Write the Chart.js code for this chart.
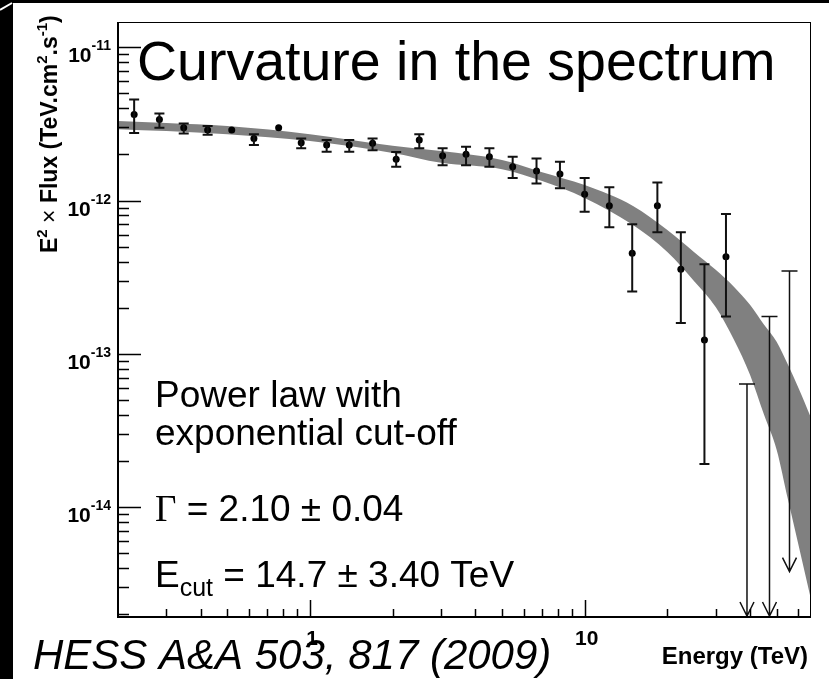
<!DOCTYPE html>
<html>
<head>
<meta charset="utf-8">
<title>Curvature in the spectrum</title>
<script src="https://cdn.jsdelivr.net/npm/chart.js@4.4.1/dist/chart.umd.min.js"></script>
<style>
  html, body { margin: 0; padding: 0; background: #000; }
  canvas { display: block; }
</style>
</head>
<body>
<canvas id="spectrumChart" width="829" height="679"></canvas>
<script>
// Measured spectrum: energy (TeV) and E^2 x Flux (TeV cm^-2 s^-1), with error bar ends
const energy = [0.229, 0.283, 0.347, 0.424, 0.519, 0.625, 0.769, 0.929, 1.15, 1.39, 1.69, 2.06, 2.50,
                3.04, 3.70, 4.50, 5.47, 6.68, 8.13, 10.0, 12.3, 14.9, 18.4, 22.4, 27.3, 32.7];
const flux = [3.64e-12, 3.38e-12, 2.98e-12, 2.88e-12, 2.88e-12, 2.54e-12, 2.98e-12, 2.38e-12, 2.30e-12,
              2.30e-12, 2.36e-12, 1.86e-12, 2.48e-12, 1.96e-12, 2.00e-12, 1.93e-12, 1.66e-12, 1.56e-12,
              1.49e-12, 1.10e-12, 9.25e-13, 4.53e-13, 9.25e-13, 3.56e-13, 1.23e-13, 4.30e-13];
const fluxHigh = [4.56e-12, 3.70e-12, 3.18e-12, 3.06e-12, 2.88e-12, 2.70e-12, 2.98e-12, 2.54e-12, 2.48e-12,
                  2.48e-12, 2.54e-12, 2.07e-12, 2.70e-12, 2.19e-12, 2.24e-12, 2.19e-12, 1.93e-12, 1.88e-12,
                  1.79e-12, 1.40e-12, 1.22e-12, 7.00e-13, 1.31e-12, 6.20e-13, 3.84e-13, 8.17e-13];
const fluxLow = [2.76e-12, 2.98e-12, 2.74e-12, 2.68e-12, 2.88e-12, 2.30e-12, 2.98e-12, 2.19e-12, 2.08e-12,
                 2.08e-12, 2.13e-12, 1.66e-12, 2.19e-12, 1.70e-12, 1.70e-12, 1.66e-12, 1.40e-12, 1.29e-12,
                 1.20e-12, 8.45e-13, 6.69e-13, 2.55e-13, 6.20e-13, 1.59e-13, 1.91e-14, 1.75e-13];

// Upper limits at the highest energies (arrow from the limit down to arrowEnd)
const limitEnergy = [39.0, 47.1, 55.7];
const limitFlux = [6.35e-14, 1.75e-13, 3.47e-13];
const limitArrowEnd = [1.95e-15, 1.95e-15, 3.8e-15];

// Fitted model band (power law with exponential cut-off), upper and lower edges
const bandEnergy = [0.2, 0.3, 0.5, 1, 2, 3, 5, 7, 10, 15, 20, 25, 30, 35, 40, 45, 50, 55, 60, 66.7];
const bandUpper = [3.30e-12, 3.20e-12, 3.06e-12, 2.71e-12, 2.28e-12, 2.10e-12, 1.84e-12, 1.53e-12, 1.26e-12,
                   9.21e-13, 6.42e-13, 4.62e-13, 3.53e-13, 2.73e-13, 2.09e-13, 1.55e-13, 1.20e-13, 8.48e-14,
                   6.01e-14, 3.83e-14];
const bandLower = [2.92e-12, 2.84e-12, 2.71e-12, 2.44e-12, 2.04e-12, 1.76e-12, 1.60e-12, 1.34e-12, 1.04e-12,
                   6.92e-13, 4.62e-13, 2.99e-13, 2.02e-13, 1.23e-13, 7.30e-14, 4.00e-14, 2.37e-14, 1.12e-14,
                   5.70e-15, 2.50e-15];

// Axis ranges and tick labels
const xRange = [0.2, 66.7];
const yRange = [1.92e-15, 1.46e-11];
const xMajorTicks = [1, 10];
const xMajorLabels = ['1', '10'];
const yDecades = [1e-14, 1e-13, 1e-12, 1e-11];
const yDecadeExponents = ['-14', '-13', '-12', '-11'];

const SANS = '"Liberation Sans", Arial, Helvetica, sans-serif';
const SERIF = '"Liberation Serif", "Times New Roman", serif';

function toXY(xs, ys) {
    return xs.map((x, i) => ({ x: x, y: ys[i] }));
}

// draw a row of text pieces (font / vertical offset each), returns total width
function drawRuns(c, x, y, runs) {
    let cx = x;
    runs.forEach(r => {
        c.font = r.font;
        c.fillText(r.text, cx, y + (r.dy || 0));
        cx += c.measureText(r.text).width;
    });
    return cx - x;
}

function runsWidth(c, runs) {
    let w = 0;
    runs.forEach(r => { c.font = r.font; w += c.measureText(r.text).width; });
    return w;
}

function minorTicks(lo, hi) {
    const out = [];
    for (let d = Math.pow(10, Math.floor(Math.log10(lo))); d < hi; d *= 10) {
        for (let m = 2; m <= 9; m++) {
            const v = m * d;
            if (v > lo && v < hi) out.push(v);
        }
    }
    return out;
}

const backgroundPlugin = {
    id: 'slideBackground',
    beforeDraw(chart) {
        const c = chart.ctx;
        c.save();
        c.fillStyle = '#000';
        c.fillRect(0, 0, chart.width, chart.height);
        c.fillStyle = '#fff';
        c.fillRect(13, 3, chart.width - 13, chart.height - 3);
        c.strokeStyle = '#fff';
        c.lineWidth = 2;
        c.beginPath();
        c.moveTo(0, 10);
        c.lineTo(12, 3);
        c.stroke();
        c.restore();
    }
};

const errorBarPlugin = {
    id: 'errorBars',
    afterDatasetsDraw(chart) {
        const c = chart.ctx;
        const xs = chart.scales.x, ys = chart.scales.y;
        c.save();
        c.strokeStyle = '#111';
        c.lineWidth = 2;
        energy.forEach((e, i) => {
            if (fluxHigh[i] === fluxLow[i]) return;
            const px = xs.getPixelForValue(e);
            const top = ys.getPixelForValue(fluxHigh[i]);
            const bot = ys.getPixelForValue(fluxLow[i]);
            c.beginPath();
            c.moveTo(px, top); c.lineTo(px, bot);
            c.moveTo(px - 5, top); c.lineTo(px + 5, top);
            c.moveTo(px - 5, bot); c.lineTo(px + 5, bot);
            c.stroke();
        });
        // upper limits
        c.lineWidth = 1.5;
        limitEnergy.forEach((e, i) => {
            const px = xs.getPixelForValue(e);
            const top = ys.getPixelForValue(limitFlux[i]);
            const tip = ys.getPixelForValue(limitArrowEnd[i]);
            c.beginPath();
            c.moveTo(px - 8, top); c.lineTo(px + 8, top);
            c.moveTo(px, top); c.lineTo(px, tip);
            c.moveTo(px - 7, tip - 14); c.lineTo(px, tip); c.lineTo(px + 7, tip - 14);
            c.stroke();
        });
        c.restore();
    }
};

const axesPlugin = {
    id: 'rootAxes',
    afterDraw(chart) {
        const c = chart.ctx;
        const a = chart.chartArea;
        const xs = chart.scales.x, ys = chart.scales.y;
        c.save();
        c.strokeStyle = '#000';
        c.fillStyle = '#000';

        // frame
        c.lineWidth = 1;
        c.strokeRect(a.left + 0.5, a.top + 0.5, a.right - a.left - 1, a.bottom - a.top - 1);
        c.lineWidth = 2;
        c.beginPath();
        c.moveTo(a.left, a.top); c.lineTo(a.left, a.bottom); c.lineTo(a.right, a.bottom);
        c.stroke();

        // y ticks on the left edge
        c.lineWidth = 1.5;
        c.beginPath();
        yDecades.forEach(v => {
            const py = Math.round(ys.getPixelForValue(v)) + 0.5;
            c.moveTo(a.left, py); c.lineTo(a.left + 23, py);
        });
        minorTicks(yRange[0], yRange[1]).forEach(v => {
            const py = Math.round(ys.getPixelForValue(v)) + 0.5;
            c.moveTo(a.left, py); c.lineTo(a.left + 11, py);
        });
        // x ticks on the bottom edge
        xMajorTicks.forEach(v => {
            const px = Math.round(xs.getPixelForValue(v)) + 0.5;
            c.moveTo(px, a.bottom); c.lineTo(px, a.bottom - 17);
        });
        minorTicks(xRange[0], xRange[1]).forEach(v => {
            const px = Math.round(xs.getPixelForValue(v)) + 0.5;
            c.moveTo(px, a.bottom); c.lineTo(px, a.bottom - 8);
        });
        c.stroke();

        // y tick labels 10^n
        c.textBaseline = 'alphabetic';
        c.textAlign = 'left';
        yDecades.forEach((v, i) => {
            const py = ys.getPixelForValue(v);
            const runs = [
                { text: '10', font: 'bold 21px ' + SANS },
                { text: yDecadeExponents[i], font: 'bold 14px ' + SANS, dy: -12 }
            ];
            drawRuns(c, 111 - runsWidth(c, runs), py + 15, runs);
        });

        // x tick labels
        c.font = 'bold 21px ' + SANS;
        c.textAlign = 'center';
        xMajorTicks.forEach((v, i) => {
            c.fillText(xMajorLabels[i], xs.getPixelForValue(v) + 2, 645);
        });

        // axis titles
        c.textAlign = 'right';
        c.font = 'bold 24px ' + SANS;
        c.fillText('Energy (TeV)', 808, 664);

        c.textAlign = 'left';
        c.save();
        c.translate(57, 253);
        c.rotate(-Math.PI / 2);
        drawRuns(c, 0, 0, [
            { text: 'E', font: 'bold 23px ' + SANS },
            { text: '2', font: 'bold 15px ' + SANS, dy: -10 },
            { text: ' \u00d7 ', font: '23px ' + SANS },
            { text: 'Flux (TeV.cm', font: 'bold 23px ' + SANS },
            { text: '2', font: 'bold 15px ' + SANS, dy: -10 },
            { text: '.s', font: 'bold 23px ' + SANS },
            { text: '-1', font: 'bold 15px ' + SANS, dy: -10 },
            { text: ')', font: 'bold 23px ' + SANS }
        ]);
        c.restore();

        // slide text
        c.font = '55.5px ' + SANS;
        c.fillText('Curvature in the spectrum', 137, 80);

        c.font = '37px ' + SANS;
        c.fillText('Power law with', 155, 407);
        c.fillText('exponential cut-off', 155, 445);
        drawRuns(c, 155, 521, [
            { text: '\u0393', font: '37px ' + SERIF },
            { text: ' = 2.10 \u00b1 0.04', font: '37px ' + SANS }
        ]);
        drawRuns(c, 155, 587, [
            { text: 'E', font: '37px ' + SANS },
            { text: 'cut', font: '25px ' + SANS, dy: 9 },
            { text: ' = 14.7 \u00b1 3.40 TeV', font: '37px ' + SANS }
        ]);
        c.font = 'italic 42px ' + SANS;
        c.fillText('HESS A&A 503, 817 (2009)', 33, 669);
        c.restore();
    }
};

const ctx = document.getElementById('spectrumChart');
new Chart(ctx.getContext('2d'), {
    type: 'scatter',
    data: {
        datasets: [{
            label: 'Data',
            data: toXY(energy, flux),
            pointRadius: 3.5,
            pointBackgroundColor: '#000',
            pointBorderWidth: 0,
            showLine: false,
            order: 0
        }, {
            label: 'Model upper',
            type: 'line',
            data: toXY(bandEnergy, bandUpper),
            borderColor: 'rgba(0,0,0,0)',
            borderWidth: 0,
            pointRadius: 0,
            cubicInterpolationMode: 'monotone',
            fill: false,
            order: 1
        }, {
            label: 'Model lower',
            type: 'line',
            data: toXY(bandEnergy, bandLower),
            borderColor: 'rgba(0,0,0,0)',
            borderWidth: 0,
            pointRadius: 0,
            cubicInterpolationMode: 'monotone',
            backgroundColor: '#808080',
            fill: '-1',
            order: 2
        }]
    },
    options: {
        responsive: false,
        animation: false,
        layout: { padding: { left: 118, top: 22, right: 18, bottom: 62 } },
        plugins: {
            legend: { display: false },
            tooltip: { enabled: false }
        },
        scales: {
            x: { type: 'logarithmic', min: xRange[0], max: xRange[1], display: false },
            y: { type: 'logarithmic', min: yRange[0], max: yRange[1], display: false }
        }
    },
    plugins: [backgroundPlugin, errorBarPlugin, axesPlugin]
});
</script>
</body>
</html>
